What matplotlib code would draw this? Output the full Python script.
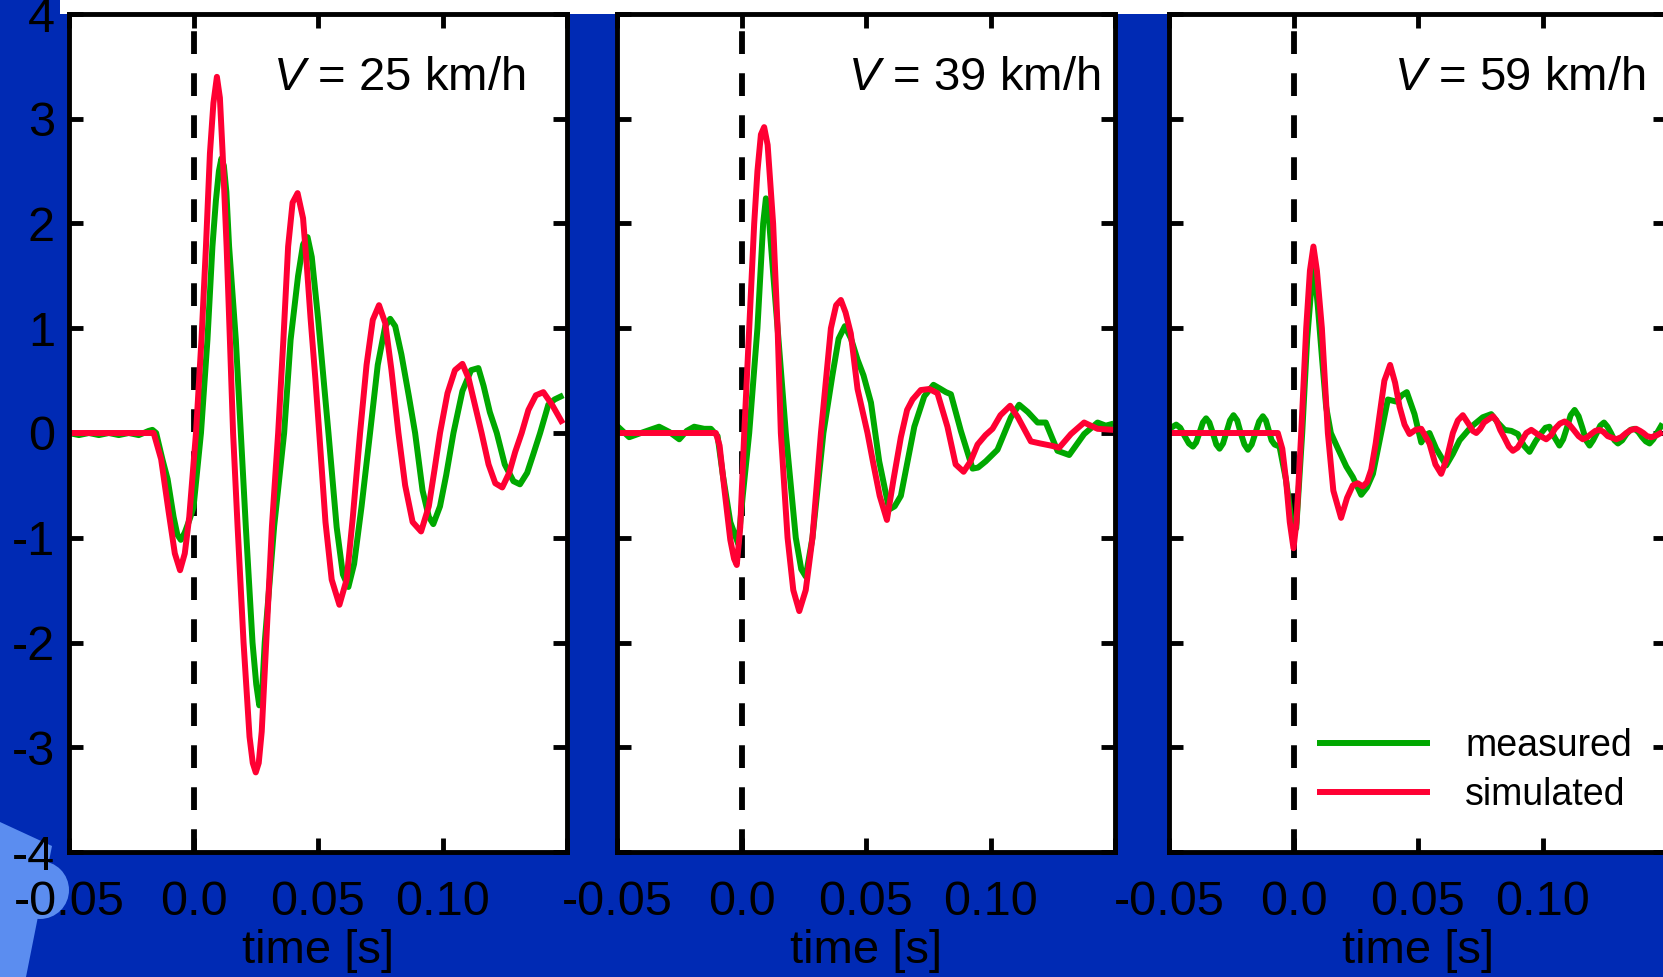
import numpy as np
import matplotlib
matplotlib.use("Agg")
import matplotlib.pyplot as plt
from matplotlib.patches import Circle, Polygon, Rectangle
from matplotlib.transforms import Affine2D

plt.rcParams['font.family'] = ['Liberation Sans', 'DejaVu Sans']
plt.rcParams['mathtext.fontset'] = 'custom'
plt.rcParams['mathtext.rm'] = 'Liberation Sans'
plt.rcParams['mathtext.it'] = 'Liberation Sans:italic'
plt.rcParams['axes.unicode_minus'] = False

# vertical acceleration after the trigger (t = 0), three passing speeds
speeds = [25, 39, 59]

meas_25 = [(-0.050, 0.00), (-0.046, -0.02), (-0.042, 0.00), (-0.038, -0.02), (-0.034, 0.00),
           (-0.030, -0.02), (-0.026, 0.00), (-0.022, -0.02), (-0.018, 0.02), (-0.0165, 0.03),
           (-0.0150, 0.00), (-0.0125, -0.25), (-0.0104, -0.44), (-0.0080, -0.80), (-0.0065, -0.97),
           (-0.0051, -1.02), (-0.0035, -0.95), (-0.0015, -0.82), (0.0000, -0.71), (0.0030, 0.00),
           (0.0056, 0.89), (0.0076, 1.78), (0.0090, 2.22), (0.0102, 2.50), (0.0112, 2.62),
           (0.0122, 2.55), (0.0132, 2.30), (0.0143, 1.78), (0.0170, 0.89), (0.0190, 0.00),
           (0.0210, -0.89), (0.0237, -2.00), (0.0252, -2.40), (0.0264, -2.60), (0.0276, -2.45),
           (0.0286, -2.00), (0.0324, -0.89), (0.0364, 0.00), (0.0390, 0.89), (0.0420, 1.50),
           (0.0440, 1.80), (0.0458, 1.87), (0.0475, 1.68), (0.0500, 1.10), (0.0542, 0.00),
           (0.0575, -0.90), (0.0600, -1.35), (0.0622, -1.47), (0.0645, -1.25), (0.0675, -0.70),
           (0.0709, 0.00), (0.0740, 0.65), (0.0770, 1.02), (0.0790, 1.09), (0.0810, 1.02),
           (0.0835, 0.75), (0.0865, 0.35), (0.0890, 0.00), (0.0920, -0.55), (0.0945, -0.80),
           (0.0963, -0.87), (0.0990, -0.70), (0.1015, -0.40), (0.1044, 0.00), (0.1080, 0.40),
           (0.1115, 0.60), (0.1144, 0.62), (0.1165, 0.45), (0.1190, 0.20), (0.1218, 0.00),
           (0.1250, -0.30), (0.1285, -0.46), (0.1311, -0.49), (0.1340, -0.38), (0.1365, -0.20),
           (0.1392, 0.00), (0.1425, 0.27), (0.1450, 0.32), (0.1485, 0.36)]

sim_25 = [(-0.050, 0.00), (-0.016, 0.00), (-0.013, -0.25), (-0.010, -0.75), (-0.0075, -1.15),
          (-0.0054, -1.31), (-0.0035, -1.15), (-0.0017, -0.80), (0.0010, 0.00), (0.0032, 0.89),
          (0.0050, 1.78), (0.0066, 2.67), (0.0080, 3.15), (0.0094, 3.40), (0.0106, 3.20),
          (0.0117, 2.67), (0.0133, 1.78), (0.0146, 0.90), (0.0159, 0.00), (0.0177, -0.89),
          (0.0201, -2.00), (0.0225, -2.90), (0.0238, -3.15), (0.0250, -3.24), (0.0262, -3.15),
          (0.0274, -2.85), (0.0292, -2.00), (0.0315, -0.89), (0.0340, 0.00), (0.0361, 0.89),
          (0.0380, 1.78), (0.0398, 2.20), (0.0418, 2.29), (0.0440, 2.05), (0.0455, 1.60),
          (0.0470, 1.10), (0.0490, 0.50), (0.0505, 0.00), (0.0530, -0.85), (0.0555, -1.40),
          (0.0586, -1.64), (0.0615, -1.40), (0.0640, -0.80), (0.0669, 0.00), (0.0695, 0.65),
          (0.0720, 1.08), (0.0745, 1.22), (0.0770, 1.05), (0.0795, 0.60), (0.0823, 0.00),
          (0.0850, -0.50), (0.0880, -0.85), (0.0914, -0.94), (0.0945, -0.70), (0.0968, -0.35),
          (0.0990, 0.00), (0.1020, 0.38), (0.1050, 0.60), (0.1080, 0.66), (0.1105, 0.52),
          (0.1130, 0.27), (0.1157, 0.00), (0.1185, -0.30), (0.1212, -0.48), (0.1240, -0.52),
          (0.1268, -0.38), (0.1292, -0.18), (0.1318, 0.00), (0.1345, 0.22), (0.1375, 0.36),
          (0.1405, 0.39), (0.1440, 0.27), (0.1483, 0.09)]

meas_39 = [(-0.0505, 0.08), (-0.0451, -0.04), (-0.0404, 0.00), (-0.0331, 0.06), (-0.0290, 0.01),
           (-0.0250, -0.06), (-0.0220, 0.02), (-0.0190, 0.06), (-0.0150, 0.04), (-0.0123, 0.04),
           (-0.0096, -0.03), (-0.0075, -0.40), (-0.0045, -0.85), (-0.0013, -1.06), (0.0005, -0.60),
           (0.0031, 0.00), (0.0064, 1.00), (0.0087, 2.00), (0.0098, 2.24), (0.0110, 2.05),
           (0.0128, 1.50), (0.0145, 1.00), (0.0178, 0.00), (0.0218, -1.00), (0.0240, -1.30),
           (0.0258, -1.37), (0.0285, -1.00), (0.0329, 0.00), (0.0365, 0.55), (0.0390, 0.90),
           (0.0415, 1.02), (0.0440, 0.90), (0.0466, 0.70), (0.0490, 0.55), (0.0520, 0.29),
           (0.0553, -0.27), (0.0593, -0.73), (0.0615, -0.70), (0.0640, -0.60), (0.0694, 0.06),
           (0.0734, 0.35), (0.0771, 0.46), (0.0800, 0.42), (0.0821, 0.39), (0.0841, 0.37),
           (0.0881, 0.02), (0.0928, -0.34), (0.0950, -0.33), (0.0981, -0.27), (0.1028, -0.16),
           (0.1082, 0.15), (0.1115, 0.27), (0.1150, 0.20), (0.1189, 0.10), (0.1222, 0.10),
           (0.1269, -0.17), (0.1316, -0.21), (0.1376, -0.01), (0.1430, 0.10), (0.1463, 0.07),
           (0.1494, 0.09)]

sim_39 = [(-0.050, 0.00), (-0.0103, 0.00), (-0.0088, -0.12), (-0.0068, -0.55), (-0.0045, -1.02),
          (-0.0030, -1.20), (-0.0019, -1.26), (-0.0005, -0.90), (0.0011, 0.00), (0.0031, 1.00),
          (0.0051, 2.00), (0.0064, 2.50), (0.0078, 2.85), (0.0091, 2.92), (0.0105, 2.75),
          (0.0127, 2.00), (0.0145, 1.00), (0.0158, 0.00), (0.0185, -1.00), (0.0208, -1.50),
          (0.0232, -1.70), (0.0258, -1.50), (0.0285, -1.00), (0.0319, 0.00), (0.0359, 1.00),
          (0.0380, 1.22), (0.0399, 1.27), (0.0418, 1.15), (0.0439, 0.95), (0.0466, 0.42),
          (0.0506, 0.00), (0.0530, -0.30), (0.0555, -0.60), (0.0584, -0.83), (0.0610, -0.45),
          (0.0640, -0.04), (0.0665, 0.22), (0.0687, 0.32), (0.0720, 0.41), (0.0754, 0.42),
          (0.0787, 0.38), (0.0827, 0.06), (0.0860, -0.30), (0.0892, -0.37), (0.0920, -0.27),
          (0.0948, -0.11), (0.0980, -0.02), (0.1008, 0.04), (0.1040, 0.17), (0.1079, 0.26),
          (0.1110, 0.15), (0.1162, -0.08), (0.1200, -0.10), (0.1242, -0.12), (0.1276, -0.14),
          (0.1323, -0.01), (0.1376, 0.10), (0.1430, 0.04), (0.1494, 0.03)]

meas_59 = [(-0.0505, 0.03), (-0.0471, 0.08), (-0.0455, 0.05), (-0.0437, -0.03), (-0.0420, -0.10),
           (-0.0404, -0.13), (-0.0391, -0.09), (-0.0378, 0.00), (-0.0364, 0.10), (-0.0351, 0.14),
           (-0.0338, 0.10), (-0.0324, 0.00), (-0.0310, -0.11), (-0.0297, -0.15), (-0.0283, -0.10),
           (-0.0269, 0.01), (-0.0255, 0.12), (-0.0241, 0.17), (-0.0226, 0.12), (-0.0212, 0.00),
           (-0.0197, -0.11), (-0.0183, -0.16), (-0.0168, -0.11), (-0.0153, 0.00), (-0.0138, 0.11),
           (-0.0123, 0.16), (-0.0111, 0.12), (-0.0100, 0.03), (-0.0088, -0.07), (-0.0076, -0.11),
           (-0.0056, -0.13), (-0.0030, -0.45), (-0.0010, -0.80), (0.0011, -0.91), (0.0035, 0.00),
           (0.0055, 0.90), (0.0072, 1.40), (0.0084, 1.56), (0.0098, 1.20), (0.0115, 0.70),
           (0.0131, 0.25), (0.0150, 0.00), (0.0171, -0.11), (0.0212, -0.32), (0.0238, -0.42),
           (0.0272, -0.59), (0.0295, -0.52), (0.0319, -0.39), (0.0352, 0.00), (0.0379, 0.32),
           (0.0412, 0.30), (0.0435, 0.36), (0.0455, 0.39), (0.0486, 0.18), (0.0513, -0.09),
           (0.0530, -0.02), (0.0546, 0.00), (0.0573, -0.15), (0.0613, -0.31), (0.0640, -0.20),
           (0.0667, -0.07), (0.0714, 0.06), (0.0760, 0.15), (0.0794, 0.18), (0.0820, 0.10),
           (0.0848, 0.03), (0.0875, 0.02), (0.0901, -0.01), (0.0925, -0.12), (0.0948, -0.18),
           (0.0972, -0.08), (0.0995, 0.00), (0.1012, 0.05), (0.1028, 0.06), (0.1048, -0.04),
           (0.1068, -0.12), (0.1083, -0.06), (0.1098, 0.05), (0.1113, 0.17), (0.1129, 0.22),
           (0.1145, 0.16), (0.1160, 0.05), (0.1175, -0.07), (0.1189, -0.12), (0.1203, -0.07),
           (0.1218, 0.00), (0.1232, 0.07), (0.1247, 0.10), (0.1261, 0.06), (0.1275, 0.00),
           (0.1289, -0.07), (0.1303, -0.10), (0.1320, -0.07), (0.1337, -0.01), (0.1353, 0.03),
           (0.1370, 0.04), (0.1385, 0.01), (0.1400, -0.04), (0.1415, -0.08), (0.1430, -0.10),
           (0.1445, -0.06), (0.1460, 0.00), (0.1482, 0.09)]

sim_59 = [(-0.050, 0.00), (-0.0063, 0.00), (-0.0045, -0.15), (-0.0030, -0.45), (-0.0015, -0.85),
          (0.0000, -1.10), (0.0012, -0.85), (0.0031, 0.00), (0.0051, 1.00), (0.0066, 1.55),
          (0.0080, 1.78), (0.0094, 1.55), (0.0114, 1.00), (0.0138, 0.00), (0.0160, -0.55),
          (0.0191, -0.81), (0.0215, -0.62), (0.0238, -0.50), (0.0258, -0.48), (0.0278, -0.51),
          (0.0295, -0.47), (0.0312, -0.35), (0.0330, -0.10), (0.0345, 0.16), (0.0365, 0.50),
          (0.0388, 0.65), (0.0408, 0.48), (0.0426, 0.25), (0.0446, 0.08), (0.0466, -0.01),
          (0.0490, 0.03), (0.0513, 0.04), (0.0546, -0.10), (0.0570, -0.30), (0.0593, -0.39),
          (0.0615, -0.25), (0.0640, 0.00), (0.0660, 0.12), (0.0680, 0.17), (0.0705, 0.08),
          (0.0720, 0.02), (0.0734, 0.00), (0.0750, 0.04), (0.0765, 0.10), (0.0801, 0.16),
          (0.0815, 0.12), (0.0830, 0.03), (0.0848, -0.05), (0.0865, -0.13), (0.0881, -0.17),
          (0.0900, -0.14), (0.0918, -0.07), (0.0935, 0.00), (0.0955, 0.03), (0.0985, -0.02),
          (0.1015, -0.06), (0.1035, -0.02), (0.1050, 0.04), (0.1070, 0.09), (0.1089, 0.11),
          (0.1108, 0.08), (0.1125, 0.03), (0.1145, -0.03), (0.1162, -0.06), (0.1180, -0.04),
          (0.1195, -0.01), (0.1212, 0.02), (0.1229, 0.03), (0.1245, 0.01), (0.1262, -0.03),
          (0.1296, -0.06), (0.1316, -0.04), (0.1336, 0.00), (0.1356, 0.03), (0.1376, 0.04),
          (0.1392, 0.02), (0.1405, 0.00), (0.1420, -0.03), (0.1437, -0.04), (0.1460, -0.02),
          (0.1482, 0.01)]

measured = [meas_25, meas_39, meas_59]
simulated = [sim_25, sim_39, sim_59]

x_ticks = [-0.05, 0.0, 0.05, 0.10, 0.15]
x_ticklabels = ['-0.05', '0.0', '0.05', '0.10', '']
y_ticks = [-4, -3, -2, -1, 0, 1, 2, 3, 4]

GREEN = '#00a800'
RED = '#ff0033'
BLUE = '#002ab4'
LIGHT = '#5b8df0'

W, H = 1663, 977
fig = plt.figure(figsize=(W / 100, H / 100), dpi=100, facecolor=BLUE)

# pixel coordinates measured from the top-left corner
pix = Affine2D().scale(1, -1).translate(0, H) + fig.transFigure.inverted() + fig.transFigure
pix = Affine2D().scale(1 / W, -1 / H).translate(0, 1) + fig.transFigure

# light emblem in the lower left corner and the white title strip, behind the axes
fig.patches.append(Polygon([(0, 822), (52, 846), (26, 977), (0, 977)], closed=True,
                           transform=pix, facecolor=LIGHT, edgecolor='none', zorder=-1))
fig.patches.append(Circle((40, 890), 29, transform=pix, facecolor=LIGHT,
                          edgecolor='none', zorder=-1))
fig.patches.append(Rectangle((60, 0), W, 14, transform=pix, facecolor='white',
                             edgecolor='none', zorder=-1))

lefts = [69, 617, 1169]
label_x = [0.916, 0.970, 0.956]
ax_w, ax_h = 498, 838
bottom = 977 - 852

for i, left in enumerate(lefts):
    ax = fig.add_axes([left / W, bottom / H, ax_w / W, ax_h / H])
    ax.set_facecolor('white')
    m = np.array(measured[i])
    s = np.array(simulated[i])
    ax.plot(m[:, 0], m[:, 1], color=GREEN, lw=4.3, solid_joinstyle='round',
            solid_capstyle='butt', label='measured')
    ax.plot(s[:, 0], s[:, 1], color=RED, lw=4.3, solid_joinstyle='round',
            solid_capstyle='butt', label='simulated')
    ax.axvline(0, color='black', lw=4.2, linestyle=(0, (3.9, 3.3)), zorder=0)

    ax.set_xlim(-0.05, 0.15)
    ax.set_ylim(-4, 4)
    ax.set_xticks(x_ticks)
    ax.set_xticklabels(x_ticklabels)
    ax.set_yticks(y_ticks)
    if i == 0:
        ax.set_yticklabels([str(v) for v in y_ticks])
    else:
        ax.set_yticklabels([])
    ax.tick_params(direction='in', length=10, width=3.5, labelsize=35, pad=10,
                   top=True, right=True)
    ax.tick_params(axis='x', pad=20)
    for sp in ax.spines.values():
        sp.set_linewidth(3.5)
    ax.set_xlabel('time [s]', fontsize=34, labelpad=3)

    ax.text(label_x[i], 0.909, r'$V$' + ' = %d km/h' % speeds[i], transform=ax.transAxes,
            ha='right', va='baseline', fontsize=34)

    if i == 2:
        ax.legend(loc='lower left', bbox_to_anchor=(0.26, 0.024), frameon=False,
                  fontsize=27, handlelength=3.0, handletextpad=0.95, labelspacing=0.35,
                  borderpad=0)

fig.savefig('out.png', dpi=100, facecolor=BLUE)
